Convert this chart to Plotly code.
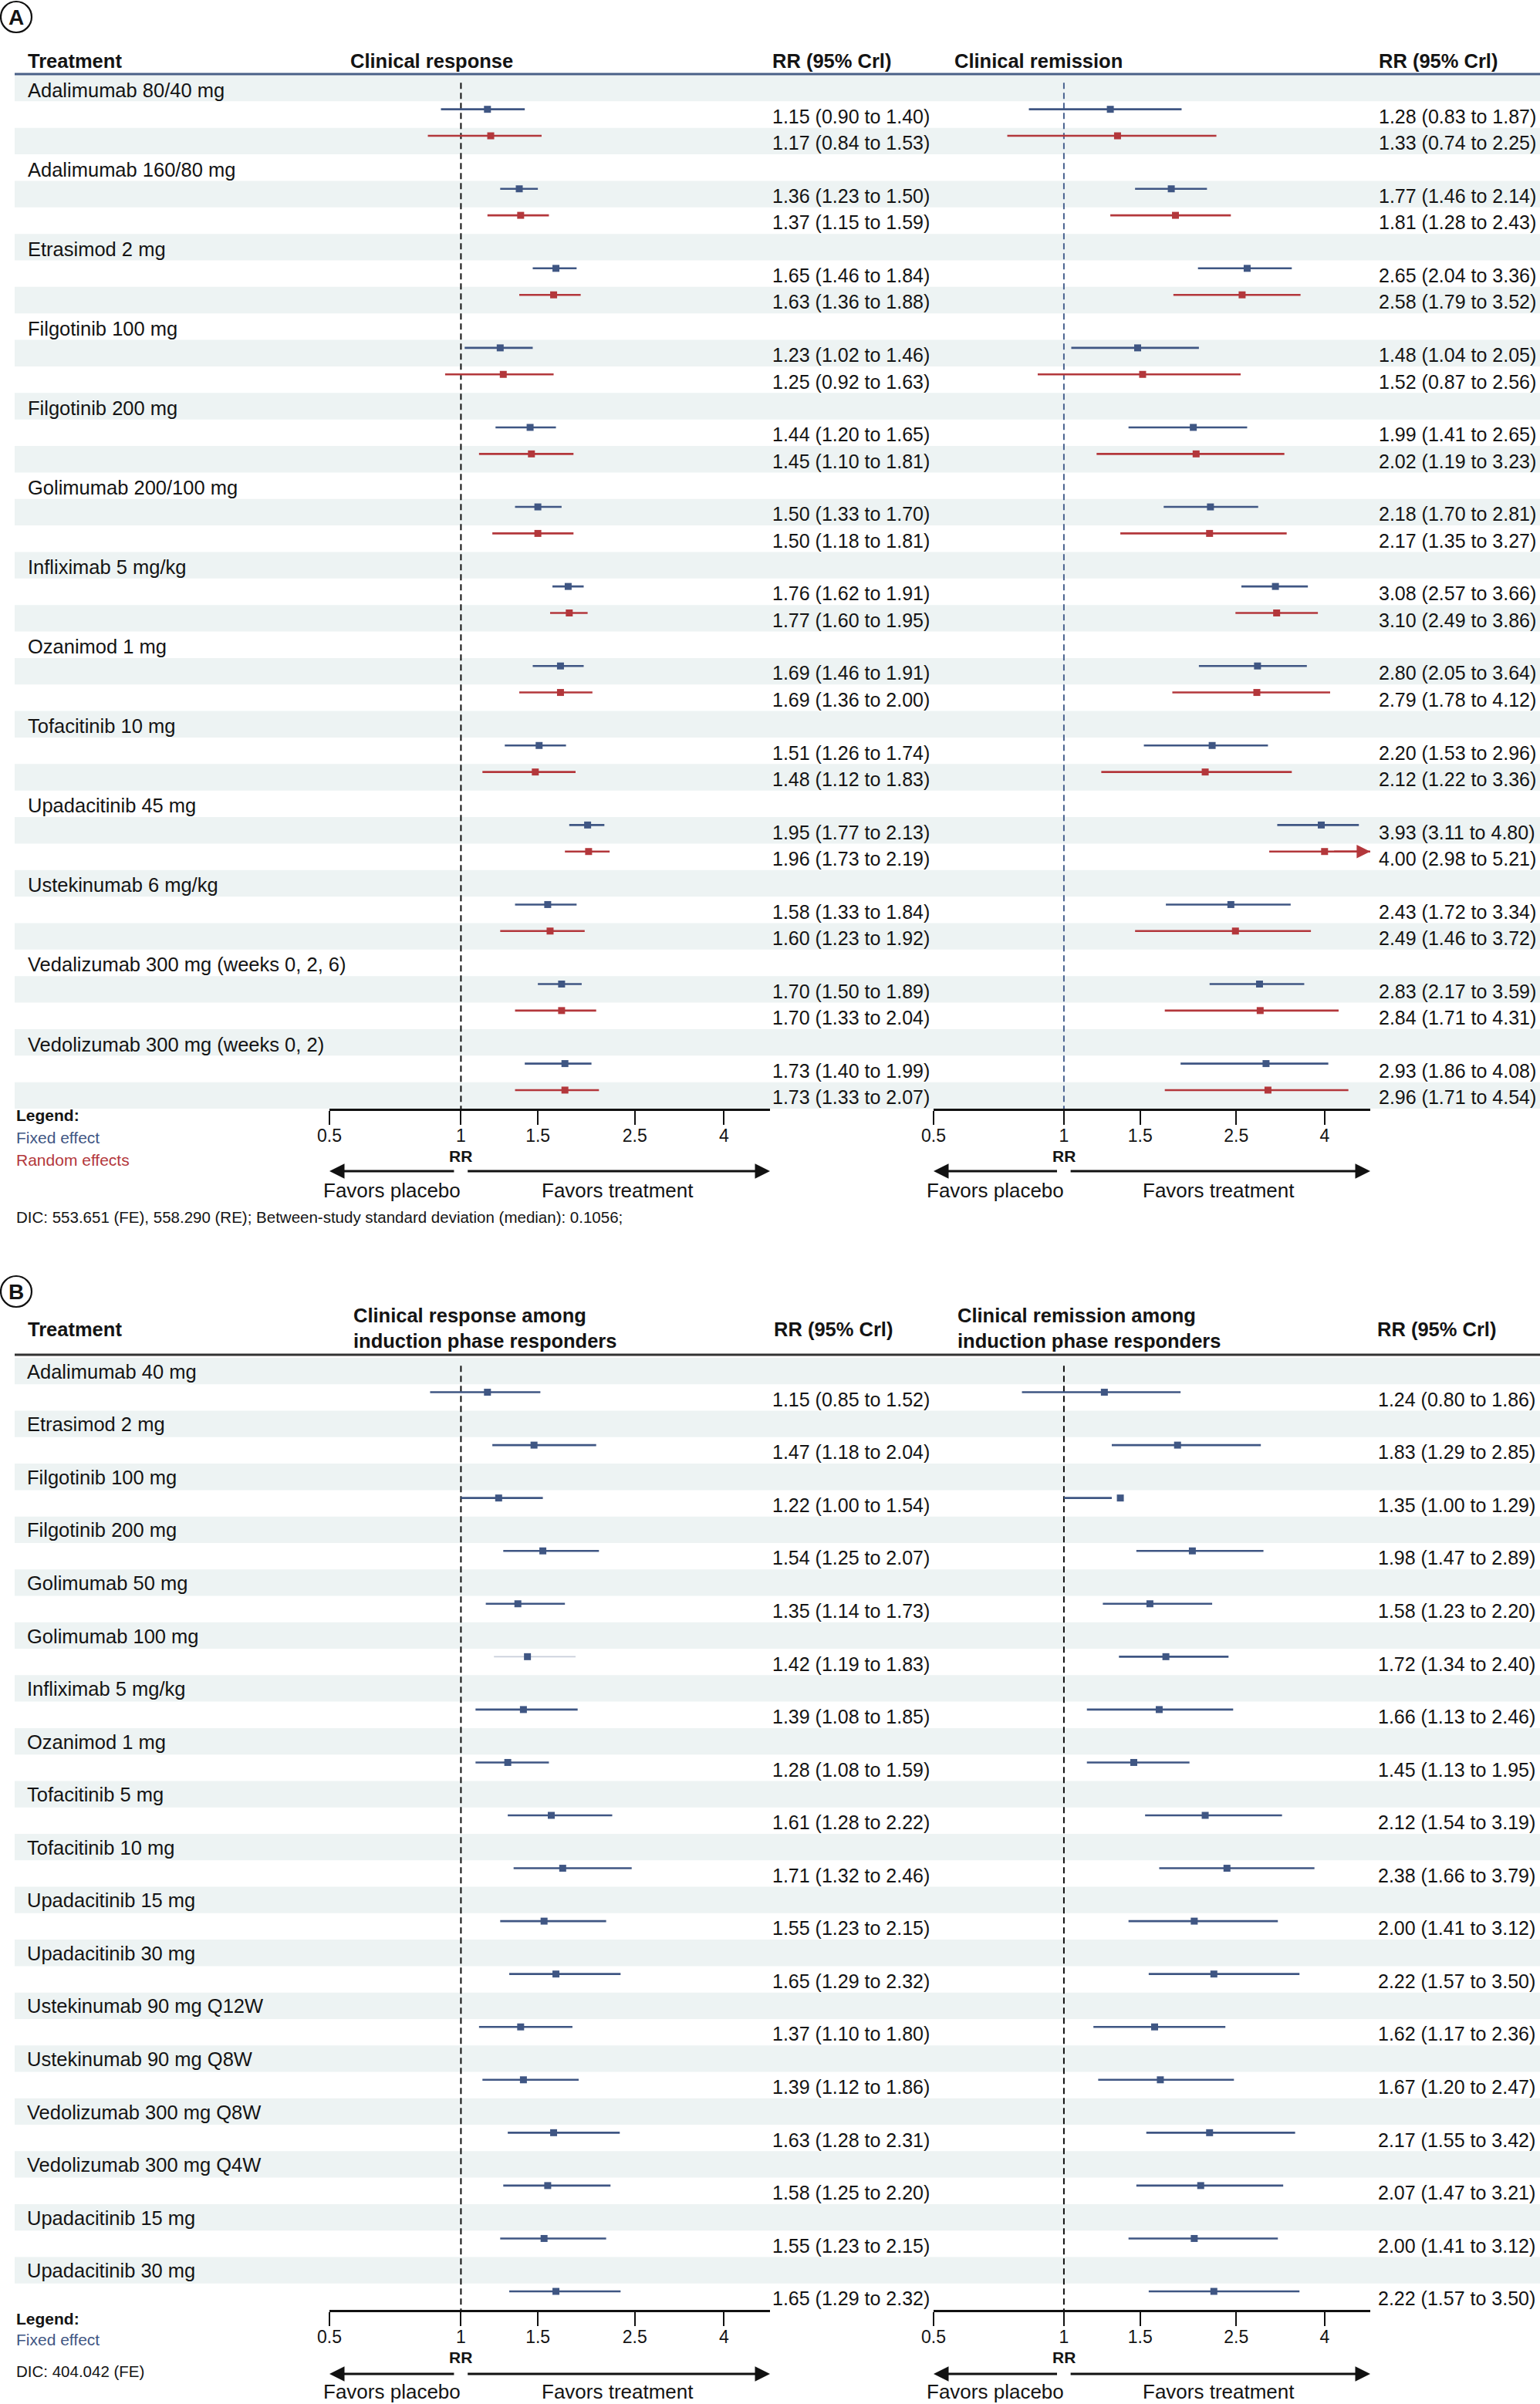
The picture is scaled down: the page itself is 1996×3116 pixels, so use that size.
import math
import plotly.graph_objects as go

W, H = 1996, 3116
FONT = "Liberation Sans, Arial, Helvetica, sans-serif"
FE_COL = "#3f5683"
RE_COL = "#b3373b"
TXT = "#141414"
SHADE = "#edf3f3"
XMIN, XMAX = 0.5, 5.1

# ---------------- Panel A data ----------------
a_treatments = ["Adalimumab 80/40 mg", "Adalimumab 160/80 mg", "Etrasimod 2 mg",
                "Filgotinib 100 mg", "Filgotinib 200 mg", "Golimumab 200/100 mg",
                "Infliximab 5 mg/kg", "Ozanimod 1 mg", "Tofacitinib 10 mg",
                "Upadacitinib 45 mg", "Ustekinumab 6 mg/kg",
                "Vedalizumab 300 mg (weeks 0, 2, 6)", "Vedolizumab 300 mg (weeks 0, 2)"]
a_resp_fe = [1.15, 1.36, 1.65, 1.23, 1.44, 1.50, 1.76, 1.69, 1.51, 1.95, 1.58, 1.70, 1.73]
a_resp_fe_lo = [0.90, 1.23, 1.46, 1.02, 1.20, 1.33, 1.62, 1.46, 1.26, 1.77, 1.33, 1.50, 1.40]
a_resp_fe_hi = [1.40, 1.50, 1.84, 1.46, 1.65, 1.70, 1.91, 1.91, 1.74, 2.13, 1.84, 1.89, 1.99]
a_resp_re = [1.17, 1.37, 1.63, 1.25, 1.45, 1.50, 1.77, 1.69, 1.48, 1.96, 1.60, 1.70, 1.73]
a_resp_re_lo = [0.84, 1.15, 1.36, 0.92, 1.10, 1.18, 1.60, 1.36, 1.12, 1.73, 1.23, 1.33, 1.33]
a_resp_re_hi = [1.53, 1.59, 1.88, 1.63, 1.81, 1.81, 1.95, 2.00, 1.83, 2.19, 1.92, 2.04, 2.07]
a_rem_fe = [1.28, 1.77, 2.65, 1.48, 1.99, 2.18, 3.08, 2.80, 2.20, 3.93, 2.43, 2.83, 2.93]
a_rem_fe_lo = [0.83, 1.46, 2.04, 1.04, 1.41, 1.70, 2.57, 2.05, 1.53, 3.11, 1.72, 2.17, 1.86]
a_rem_fe_hi = [1.87, 2.14, 3.36, 2.05, 2.65, 2.81, 3.66, 3.64, 2.96, 4.80, 3.34, 3.59, 4.08]
a_rem_re = [1.33, 1.81, 2.58, 1.52, 2.02, 2.17, 3.10, 2.79, 2.12, 4.00, 2.49, 2.84, 2.96]
a_rem_re_lo = [0.74, 1.28, 1.79, 0.87, 1.19, 1.35, 2.49, 1.78, 1.22, 2.98, 1.46, 1.71, 1.71]
a_rem_re_hi = [2.25, 2.43, 3.52, 2.56, 3.23, 3.27, 3.86, 4.12, 3.36, 5.21, 3.72, 4.31, 4.54]

# ---------------- Panel B data ----------------
b_treatments = ["Adalimumab 40 mg", "Etrasimod 2 mg", "Filgotinib 100 mg", "Filgotinib 200 mg",
                "Golimumab 50 mg", "Golimumab 100 mg", "Infliximab 5 mg/kg", "Ozanimod 1 mg",
                "Tofacitinib 5 mg", "Tofacitinib 10 mg", "Upadacitinib 15 mg", "Upadacitinib 30 mg",
                "Ustekinumab 90 mg Q12W", "Ustekinumab 90 mg Q8W", "Vedolizumab 300 mg Q8W",
                "Vedolizumab 300 mg Q4W", "Upadacitinib 15 mg", "Upadacitinib 30 mg"]
b_resp = [1.15, 1.47, 1.22, 1.54, 1.35, 1.42, 1.39, 1.28, 1.61, 1.71, 1.55, 1.65, 1.37, 1.39, 1.63, 1.58, 1.55, 1.65]
b_resp_lo = [0.85, 1.18, 1.00, 1.25, 1.14, 1.19, 1.08, 1.08, 1.28, 1.32, 1.23, 1.29, 1.10, 1.12, 1.28, 1.25, 1.23, 1.29]
b_resp_hi = [1.52, 2.04, 1.54, 2.07, 1.73, 1.83, 1.85, 1.59, 2.22, 2.46, 2.15, 2.32, 1.80, 1.86, 2.31, 2.20, 2.15, 2.32]
b_rem = [1.24, 1.83, 1.35, 1.98, 1.58, 1.72, 1.66, 1.45, 2.12, 2.38, 2.00, 2.22, 1.62, 1.67, 2.17, 2.07, 2.00, 2.22]
b_rem_lo = [0.80, 1.29, 1.00, 1.47, 1.23, 1.34, 1.13, 1.13, 1.54, 1.66, 1.41, 1.57, 1.17, 1.20, 1.55, 1.47, 1.41, 1.57]
b_rem_hi = [1.86, 2.85, 1.29, 2.89, 2.20, 2.40, 2.46, 1.95, 3.19, 3.79, 3.12, 3.50, 2.36, 2.47, 3.42, 3.21, 3.12, 3.50]

tick_vals = [0.5, 1, 1.5, 2.5, 4]
tick_text = ["0.5", "1", "1.5", "2.5", "4"]

# ---------------- layout geometry (pixels) ----------------
A_TOP, A_BOT = 97, 1437
B_TOP, B_BOT = 1760, 2994
NA = 3 * len(a_treatments)
NB = 2 * len(b_treatments)
TXT_OFF = 0.57
MK_OFF = 0.30
LBL = 25.5
VAL = 25
HDR = 25.5


def px(x):
    return x / W


def py(y):
    return 1 - y / H


fig = go.Figure()
shapes = []
annotations = []


def ann(text, x, y, size=VAL, color=TXT, xanchor="left", yanchor="middle", xref="paper", yref="paper", bold=False):
    if bold:
        text = "<b>" + text + "</b>"
    annotations.append(dict(text=text, x=x, y=y, xref=xref, yref=yref, xanchor=xanchor, yanchor=yanchor,
                            showarrow=False, align="left", borderpad=0,
                            font=dict(size=size, color=color, family=FONT)))


def fmt(e, l, h):
    return f"{e:.2f} ({l:.2f} to {h:.2f})"


def forest(xa, ya, est, lo, hi, rows, color, faint=()):
    lx, ly, fx, fy = [], [], [], []
    for i, (l, h, r) in enumerate(zip(lo, hi, rows)):
        yy = r + MK_OFF
        if i in faint:
            fx += [l, min(h, XMAX), None]
            fy += [yy, yy, None]
        else:
            lx += [l, min(h, XMAX), None]
            ly += [yy, yy, None]
        if h > XMAX:
            annotations.append(dict(x=math.log10(XMAX), y=yy, xref=xa, yref=ya,
                                    ax=math.log10(XMAX * 0.82), ay=yy, axref=xa, ayref=ya,
                                    showarrow=True, arrowhead=2, arrowsize=1.6, arrowwidth=2.2,
                                    arrowcolor=color, text="", standoff=0))
    fig.add_trace(go.Scatter(x=lx, y=ly, mode="lines", line=dict(color=color, width=2.6),
                             xaxis=xa, yaxis=ya, hoverinfo="skip", showlegend=False))
    if fx:
        fig.add_trace(go.Scatter(x=fx, y=fy, mode="lines", line=dict(color="#c9cfdb", width=1.6),
                                 xaxis=xa, yaxis=ya, hoverinfo="skip", showlegend=False))
    fig.add_trace(go.Scatter(x=est, y=[r + MK_OFF for r in rows], mode="markers",
                             marker=dict(symbol="square", size=9, color=color, line=dict(width=0)),
                             xaxis=xa, yaxis=ya, showlegend=False))


def ref_line(xa, ya, n, color):
    fig.add_trace(go.Scatter(x=[1, 1], y=[0.3, n], mode="lines",
                             line=dict(color=color, width=2, dash="8px,5px"),
                             xaxis=xa, yaxis=ya, hoverinfo="skip", showlegend=False))


# ---------------- Panel A ----------------
ref_line("x", "y", NA, "#111111")
ref_line("x2", "y", NA, "#4a6390")
for i in range(NA):
    if i % 2 == 0:
        shapes.append(dict(type="rect", xref="paper", yref="y", x0=px(19), x1=1, y0=i, y1=i + 1,
                           fillcolor=SHADE, line=dict(width=0), layer="below"))
fe_rows_a = [3 * k + 1 for k in range(len(a_treatments))]
re_rows_a = [3 * k + 2 for k in range(len(a_treatments))]
forest("x", "y", a_resp_fe, a_resp_fe_lo, a_resp_fe_hi, fe_rows_a, FE_COL)
forest("x", "y", a_resp_re, a_resp_re_lo, a_resp_re_hi, re_rows_a, RE_COL)
forest("x2", "y", a_rem_fe, a_rem_fe_lo, a_rem_fe_hi, fe_rows_a, FE_COL)
forest("x2", "y", a_rem_re, a_rem_re_lo, a_rem_re_hi, re_rows_a, RE_COL)

for k, t in enumerate(a_treatments):
    ann(t, px(35), 3 * k + TXT_OFF, size=LBL, yref="y")
    ann(fmt(a_resp_fe[k], a_resp_fe_lo[k], a_resp_fe_hi[k]), px(1000), fe_rows_a[k] + TXT_OFF, yref="y")
    ann(fmt(a_resp_re[k], a_resp_re_lo[k], a_resp_re_hi[k]), px(1000), re_rows_a[k] + TXT_OFF, yref="y")
    ann(fmt(a_rem_fe[k], a_rem_fe_lo[k], a_rem_fe_hi[k]), px(1786), fe_rows_a[k] + TXT_OFF, yref="y")
    ann(fmt(a_rem_re[k], a_rem_re_lo[k], a_rem_re_hi[k]), px(1786), re_rows_a[k] + TXT_OFF, yref="y")

ann("Treatment", px(35), py(79), size=HDR, bold=True)
ann("Clinical response", px(453), py(79), size=HDR, bold=True)
ann("RR (95% Crl)", px(1000), py(79), size=HDR, bold=True)
ann("Clinical remission", px(1236), py(79), size=HDR, bold=True)
ann("RR (95% Crl)", px(1786), py(79), size=HDR, bold=True)
shapes.append(dict(type="line", xref="paper", yref="paper", x0=px(19), x1=1, y0=py(96), y1=py(96),
                   line=dict(color="#4a6088", width=3)))

ann("Legend:", px(20), py(1445), size=21, bold=True)
ann("Fixed effect", px(20), py(1474), size=21, color=FE_COL)
ann("Random effects", px(20), py(1503), size=21, color=RE_COL)
ann("DIC: 553.651 (FE), 558.290 (RE); Between-study standard deviation (median): 0.1056;",
    px(20), py(1577), size=20.5)

# ---------------- Panel B ----------------
ref_line("x3", "y2", NB, "#111111")
ref_line("x4", "y2", NB, "#111111")
for i in range(NB):
    if i % 2 == 0:
        shapes.append(dict(type="rect", xref="paper", yref="y2", x0=px(19), x1=1, y0=i, y1=i + 1,
                           fillcolor=SHADE, line=dict(width=0), layer="below"))
fe_rows_b = [2 * k + 1 for k in range(len(b_treatments))]
forest("x3", "y2", b_resp, b_resp_lo, b_resp_hi, fe_rows_b, FE_COL,
       faint=[b_treatments.index("Golimumab 100 mg")])
forest("x4", "y2", b_rem, b_rem_lo, b_rem_hi, fe_rows_b, FE_COL)
for k, t in enumerate(b_treatments):
    ann(t, px(34), 2 * k + 0.52, size=LBL, yref="y2")
    ann(fmt(b_resp[k], b_resp_lo[k], b_resp_hi[k]), px(1000), fe_rows_b[k] + TXT_OFF, yref="y2")
    ann(fmt(b_rem[k], b_rem_lo[k], b_rem_hi[k]), px(1785), fe_rows_b[k] + TXT_OFF, yref="y2")

ann("Treatment", px(35), py(1723), size=HDR, bold=True)
ann("Clinical response among<br>induction phase responders", px(457), py(1721), size=HDR, bold=True)
ann("RR (95% Crl)", px(1002), py(1723), size=HDR, bold=True)
ann("Clinical remission among<br>induction phase responders", px(1240), py(1721), size=HDR, bold=True)
ann("RR (95% Crl)", px(1784), py(1723), size=HDR, bold=True)
shapes.append(dict(type="line", xref="paper", yref="paper", x0=px(19), x1=1, y0=py(1756), y1=py(1756),
                   line=dict(color="#333333", width=3)))

ann("Legend:", px(20), py(3005), size=21, bold=True)
ann("Fixed effect", px(20), py(3032), size=21, color=FE_COL)
ann("DIC: 404.042 (FE)", px(20), py(3073), size=20.5)

# ---------------- panel letters ----------------
for letter, cy in (("A", 22), ("B", 1674)):
    shapes.append(dict(type="circle", xref="paper", yref="paper", x0=px(1), x1=px(41),
                       y0=py(cy - 20), y1=py(cy + 20), line=dict(color="#111", width=2.2)))
    ann(letter, px(21), py(cy + 1), size=28, bold=True, xanchor="center")

# ---------------- axis decorations ----------------
for xa, rr_y, arr_y, fav_y in (("x", 1498, 1518, 1543), ("x2", 1498, 1518, 1543),
                               ("x3", 3055, 3077, 3100), ("x4", 3055, 3077, 3100)):
    ann("RR", 0, py(rr_y), size=21, bold=True, xanchor="center", xref=xa)
    for tail, head in ((0.97, XMIN), (1.03, XMAX)):
        annotations.append(dict(x=math.log10(head), y=py(arr_y), xref=xa, yref="paper",
                                ax=math.log10(tail), ay=0, axref=xa, ayref="pixel",
                                showarrow=True, arrowhead=2, arrowsize=1.3, arrowwidth=3,
                                arrowcolor="#111", text="", standoff=0))
    ann("Favors placebo", math.log10(0.695), py(fav_y), size=26, xanchor="center", xref=xa)
    ann("Favors treatment", math.log10(2.28), py(fav_y), size=26, xanchor="center", xref=xa)

xcommon = dict(type="log", range=[math.log10(XMIN), math.log10(XMAX)], showgrid=False, zeroline=False,
               showline=True, linecolor="#111", linewidth=2.5, ticks="outside", ticklen=18, tickwidth=2,
               tickcolor="#111", tickvals=tick_vals, ticktext=tick_text, automargin=False,
               ticklabelstandoff=-5,
               tickfont=dict(size=23, color=TXT, family=FONT), fixedrange=True)
ycommon = dict(visible=False, showgrid=False, zeroline=False, fixedrange=True, automargin=False)

fig.update_layout(
    width=W, height=H, autosize=False,
    margin=dict(l=0, r=0, t=0, b=0, pad=0, autoexpand=False),
    paper_bgcolor="white", plot_bgcolor="rgba(0,0,0,0)", showlegend=False,
    font=dict(family=FONT, color=TXT),
    xaxis=dict(domain=[px(427), px(998)], anchor="y", **xcommon),
    xaxis2=dict(domain=[px(1210), px(1776)], anchor="y", **xcommon),
    xaxis3=dict(domain=[px(427), px(998)], anchor="y2", **xcommon),
    xaxis4=dict(domain=[px(1210), px(1776)], anchor="y2", **xcommon),
    yaxis=dict(domain=[py(A_BOT), py(A_TOP)], range=[NA, 0], anchor="x", **ycommon),
    yaxis2=dict(domain=[py(B_BOT), py(B_TOP)], range=[NB, 0], anchor="x3", **ycommon),
    shapes=shapes, annotations=annotations,
)

fig.write_html("out.html")
